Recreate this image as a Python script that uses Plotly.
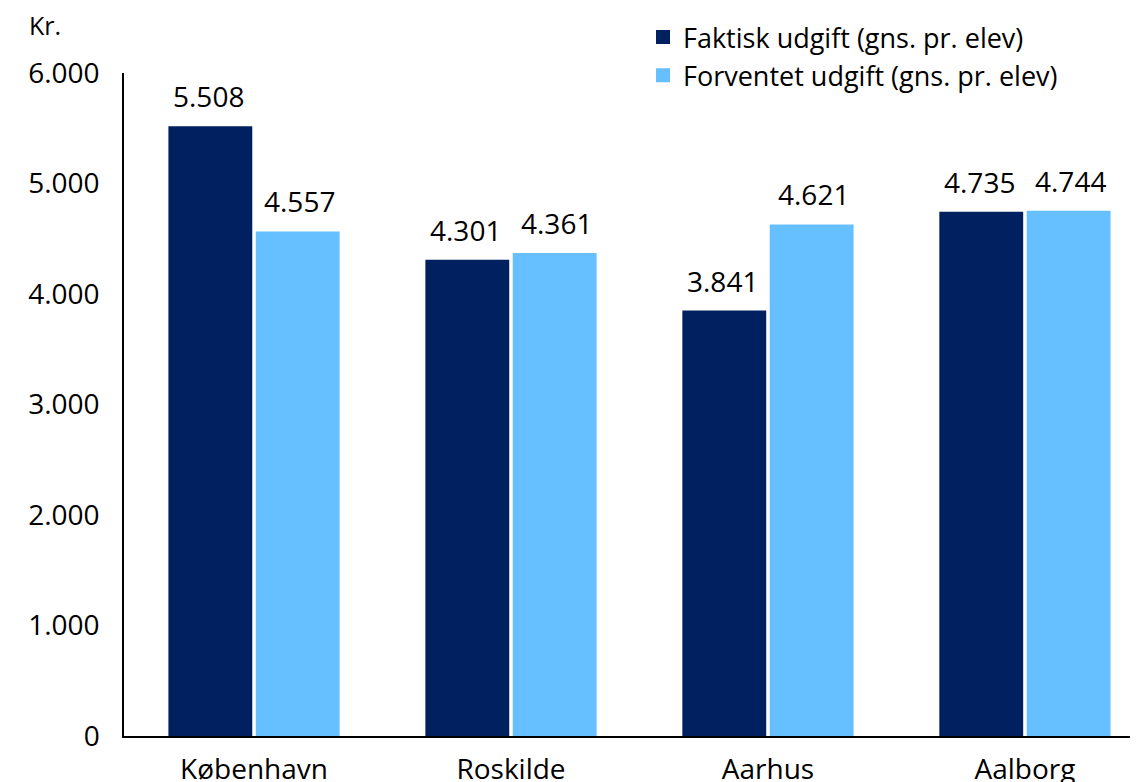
import plotly.graph_objects as go

categories = ["København", "Roskilde", "Aarhus", "Aalborg"]
faktisk = [5508, 4301, 3841, 4735]
forventet = [4557, 4361, 4621, 4744]
series_names = ["Faktisk udgift (gns. pr. elev)", "Forventet udgift (gns. pr. elev)"]
y_ticks = [0, 1000, 2000, 3000, 4000, 5000, 6000]
y_unit = "Kr."

DARK = "#00205F"
LIGHT = "#66BFFF"
FONT = "Open Sans"
FS = 28

# page has an 8px body margin; figure sized to fit the window
W, H = 1130, 774
L, R, T, B = 116, 0, 65, 46
PW, PH = W - L - R, H - T - B

def fmt(v):
    return f"{v:,}".replace(",", ".")

fig = go.Figure()
fig.add_trace(go.Bar(x=categories, y=faktisk, name=series_names[0], marker_color=DARK,
                     marker_line=dict(color=DARK, width=2)))
fig.add_trace(go.Bar(x=categories, y=forventet, name=series_names[1], marker_color=LIGHT,
                     marker_line=dict(color=LIGHT, width=2)))

annotations = []
for i, cat in enumerate(categories):
    for vals, shift in ((faktisk, -45.5), (forventet, 45.5)):
        annotations.append(dict(x=i, y=vals[i], xref="x", yref="y", text=fmt(vals[i]),
                                showarrow=False, yanchor="bottom", yshift=10, xshift=shift,
                                font=dict(family=FONT, size=FS, color="#000")))
annotations.append(dict(x=(19 - L) / PW, y=(H - B - 17) / PH, xref="paper", yref="paper",
                        text=y_unit, showarrow=False, xanchor="left", yanchor="middle",
                        font=dict(family=FONT, size=25, color="#000")))
fig.update_layout(annotations=annotations)

fig.update_layout(
    width=W, height=H,
    margin=dict(l=L, r=R, t=T, b=B, pad=0, autoexpand=False),
    paper_bgcolor="white", plot_bgcolor="white",
    font=dict(family=FONT, size=FS, color="#000"),
    separators=",.",
    barmode="group", bargap=0.32, bargroupgap=0.063,
    showlegend=True,
    legend=dict(x=635 / W, y=1 - 5 / H, xref="container", yref="container",
                xanchor="left", yanchor="top", orientation="v",
                font=dict(family=FONT, size=27, color="#000"), tracegroupgap=0,
                bgcolor="rgba(0,0,0,0)"),
)
fig.update_xaxes(range=[-0.506, 3.44], showline=True, linecolor="#000", linewidth=1.5,
                 showgrid=False, ticks="", ticklabelstandoff=8, automargin=False,
                 tickfont=dict(family=FONT, size=FS, color="#000"))
fig.update_yaxes(range=[0, 6000], tickvals=y_ticks, tickformat=",.0f", showline=True,
                 linecolor="#000", linewidth=1.5, showgrid=False, zeroline=False, ticks="",
                 ticklabelstandoff=17, automargin=False,
                 tickfont=dict(family=FONT, size=FS, color="#000"))

fig.write_html("out.html")
